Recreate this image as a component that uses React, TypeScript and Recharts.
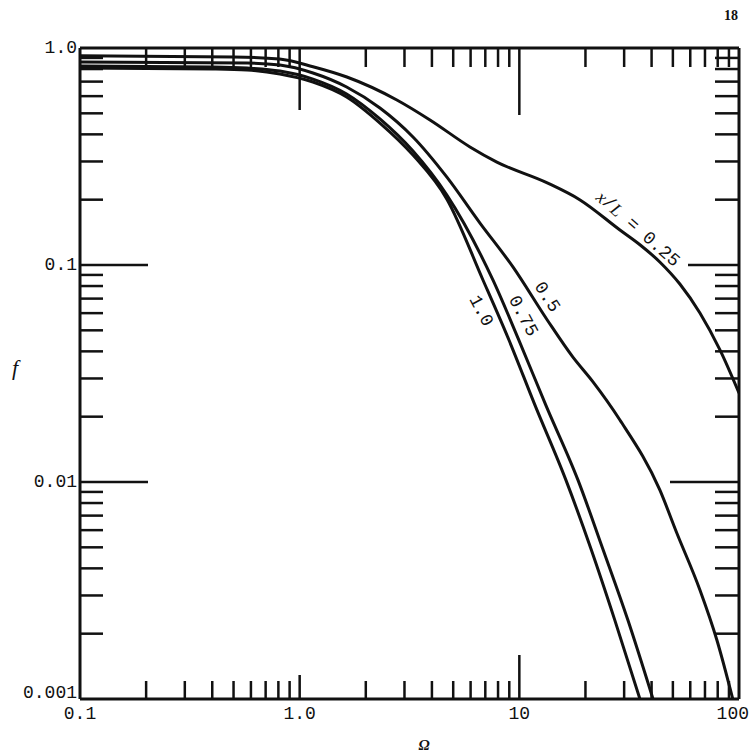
import { LineChart, Line, XAxis, YAxis } from 'recharts'

// attenuation factor f against frequency parameter Ω, one curve per station x/L
const CURVE_025 = [
  [0.1, 0.92], [0.5, 0.91], [0.81, 0.89], [1.15, 0.82], [1.64, 0.735], [2.77, 0.576],
  [3.92, 0.466], [5.96, 0.35], [7.9, 0.298], [13.4, 0.239], [18.9, 0.1995], [28.7, 0.145],
  [35.4, 0.124], [43.7, 0.103], [53.8, 0.0817], [66.4, 0.0601], [81.9, 0.0406], [100, 0.0257],
]
const CURVE_050 = [
  [0.1, 0.862], [0.576, 0.853], [0.813, 0.835], [1.15, 0.767], [1.636, 0.661], [2.32, 0.529],
  [3.28, 0.389], [4.68, 0.254], [6.62, 0.156], [9.35, 0.098], [13.4, 0.0558], [17.5, 0.0377],
  [21.6, 0.029], [28.7, 0.0193], [43.6, 0.00919], [52.1, 0.00582], [66.4, 0.00318],
  [79.3, 0.00187], [93.7, 0.001],
]
const CURVE_075 = [
  [0.1, 0.826], [0.403, 0.818], [0.576, 0.809], [0.813, 0.783], [1.15, 0.719], [1.636, 0.614],
  [2.32, 0.471], [3.28, 0.335], [4.68, 0.21], [7.58, 0.0853], [9.95, 0.0451], [13.2, 0.0226],
  [18.5, 0.0102], [24.0, 0.00491], [31.2, 0.00231], [40.6, 0.001],
]
const CURVE_100 = [
  [0.1, 0.809], [0.403, 0.8], [0.576, 0.792], [0.813, 0.759], [1.15, 0.697], [1.636, 0.595],
  [2.32, 0.451], [3.28, 0.321], [4.68, 0.201], [6.83, 0.0853], [8.97, 0.0451], [11.78, 0.0226],
  [16.3, 0.0102], [21.2, 0.00491], [27.2, 0.00231], [35.4, 0.001],
]

const X_TICKS = [
  0.1, 0.2, 0.3, 0.4, 0.5, 0.6, 0.7, 0.8, 0.9,
  1, 2, 3, 4, 5, 6, 7, 8, 9,
  10, 20, 30, 40, 50, 60, 70, 80, 90, 100,
]
const Y_TICKS = [
  0.001, 0.002, 0.003, 0.004, 0.005, 0.006, 0.007, 0.008, 0.009,
  0.01, 0.02, 0.03, 0.04, 0.05, 0.06, 0.07, 0.08, 0.09,
  0.1, 0.2, 0.3, 0.4, 0.5, 0.6, 0.7, 0.8, 0.9, 1,
]
const X_LABELED = [0.1, 1, 10, 100]
const X_LABEL_TEXT = ['0.1', '1.0', '10', '100']
const Y_LABELED = [1, 0.1, 0.01, 0.001]
const Y_LABEL_TEXT = ['1.0', '0.1', '0.01', '0.001']

const toRows = (pts: number[][]) => pts.map(([w, f]) => ({ w, f }))

const INK = '#111'
const MONO = '"Liberation Mono", "DejaVu Sans Mono", monospace'
const SERIF = '"Liberation Serif", "DejaVu Serif", serif'

const isEnd = (v: number, lo: number, hi: number) => v === lo || v === hi

function BottomTick({ x, y, payload }: any) {
  const v = payload.value
  const len = isEnd(v, 0.1, 100) ? 0 : v === 10 ? 44 : v === 1 ? 24 : 18
  const i = X_LABELED.indexOf(v)
  const last = v === 100
  return (
    <g>
      {len > 0 && <line x1={x} x2={x} y1={y} y2={y - len} stroke={INK} strokeWidth={2.5} />}
      {i >= 0 && (
        <text x={last ? 749 : x} y={y + 20} textAnchor={last ? 'end' : 'middle'} fontFamily={MONO} fontSize={18} fill={INK}>
          {X_LABEL_TEXT[i]}
        </text>
      )}
    </g>
  )
}

function TopTick({ x, y, payload }: any) {
  const v = payload.value
  const len = isEnd(v, 0.1, 100) ? 0 : v === 10 ? 67 : v === 1 ? 62 : 19
  if (!len) return <g />
  return <line x1={x} x2={x} y1={y} y2={y + len} stroke={INK} strokeWidth={2.5} />
}

function LeftTick({ x, y, payload }: any) {
  const v = payload.value
  const len = isEnd(v, 0.001, 1) ? 0 : v === 0.1 || v === 0.01 ? 68 : 23
  const i = Y_LABELED.indexOf(v)
  return (
    <g>
      {len > 0 && <line x1={x} x2={x + len} y1={y} y2={y} stroke={INK} strokeWidth={2.5} />}
      {i >= 0 && (
        <text x={x - 3} y={y + (v === 0.001 ? -1 : 5)} textAnchor="end" fontFamily={MONO} fontSize={18} fill={INK}>
          {Y_LABEL_TEXT[i]}
        </text>
      )}
    </g>
  )
}

function RightTick({ x, y, payload }: any) {
  const v = payload.value
  const len = isEnd(v, 0.001, 1) ? 0 : v === 0.1 ? 51 : v === 0.01 ? 69 : 24
  if (!len) return <g />
  return <line x1={x} x2={x - len} y1={y} y2={y} stroke={INK} strokeWidth={2.5} />
}

const axisLine = { stroke: INK, strokeWidth: 3 }

export default function App() {
  return (
    <div style={{ position: 'absolute', left: 0, top: 0, width: 750, height: 756, background: '#fff' }}>
      <LineChart width={750} height={756} margin={{ top: 0, right: 0, bottom: 0, left: 0 }}>
        <XAxis
          dataKey="w" type="number" scale="log" domain={[0.1, 100]} allowDataOverflow
          ticks={X_TICKS} interval={0} tickSize={0} tickMargin={0} tickLine={false}
          axisLine={axisLine} height={57} tick={(p: any) => <BottomTick {...p} />}
        />
        <XAxis
          xAxisId="top" orientation="top" dataKey="w" type="number" scale="log" domain={[0.1, 100]}
          allowDataOverflow ticks={X_TICKS} interval={0} tickSize={0} tickMargin={0} tickLine={false}
          axisLine={axisLine} height={48} tick={(p: any) => <TopTick {...p} />}
        />
        <YAxis
          type="number" scale="log" domain={[0.001, 1]} allowDataOverflow
          ticks={Y_TICKS} interval={0} tickSize={0} tickMargin={0} tickLine={false}
          axisLine={axisLine} width={80} tick={(p: any) => <LeftTick {...p} />}
        />
        <YAxis
          yAxisId="right" orientation="right" type="number" scale="log" domain={[0.001, 1]}
          allowDataOverflow ticks={Y_TICKS} interval={0} tickSize={0} tickMargin={0} tickLine={false}
          axisLine={axisLine} width={11} tick={(p: any) => <RightTick {...p} />}
        />
        <Line data={toRows(CURVE_025)} dataKey="f" type="monotone" stroke={INK} strokeWidth={3} dot={false} isAnimationActive={false} />
        <Line data={toRows(CURVE_050)} dataKey="f" type="monotone" stroke={INK} strokeWidth={3} dot={false} isAnimationActive={false} />
        <Line data={toRows(CURVE_075)} dataKey="f" type="monotone" stroke={INK} strokeWidth={3} dot={false} isAnimationActive={false} />
        <Line data={toRows(CURVE_100)} dataKey="f" type="monotone" stroke={INK} strokeWidth={3} dot={false} isAnimationActive={false} />
      </LineChart>
      <svg width={750} height={756} style={{ position: 'absolute', left: 0, top: 0, pointerEvents: 'none' }}>
        <text x={731} y={20} textAnchor="middle" fontFamily={SERIF} fontWeight="bold" fontSize={14} fill={INK}>18</text>
        <text x={15} y={375} textAnchor="middle" fontFamily={SERIF} fontStyle="italic" fontSize={22} fill={INK}>f</text>
        <text x={424} y={750} textAnchor="middle" fontFamily={SERIF} fontStyle="italic" fontWeight="bold" fontSize={15} fill={INK}>Ω</text>
        <g transform="translate(638,229) rotate(41.5)">
          <text textAnchor="middle" dominantBaseline="central" fontFamily={MONO} fontSize={18} fill={INK}>
            <tspan fontFamily={SERIF} fontStyle="italic">x</tspan>/<tspan fontFamily={SERIF} fontStyle="italic">L</tspan> = 0.25
          </text>
        </g>
        <g transform="translate(547,297) rotate(57)">
          <text textAnchor="middle" dominantBaseline="central" fontFamily={MONO} fontSize={18} fill={INK}>0.5</text>
        </g>
        <g transform="translate(523,316) rotate(62)">
          <text textAnchor="middle" dominantBaseline="central" fontFamily={MONO} fontSize={18} fill={INK}>0.75</text>
        </g>
        <g transform="translate(481,311) rotate(62)">
          <text textAnchor="middle" dominantBaseline="central" fontFamily={MONO} fontSize={18} fill={INK}>1.0</text>
        </g>
      </svg>
    </div>
  )
}
